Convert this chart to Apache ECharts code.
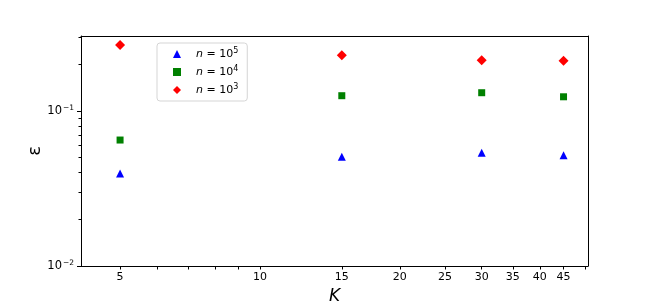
<!DOCTYPE html>
<html><head><meta charset="utf-8">
<script src="https://cdn.jsdelivr.net/npm/echarts@6/dist/echarts.min.js"></script>
<style>html,body{margin:0;padding:0;background:#fff}#c{width:654px;height:305px}</style>
</head><body><div id="c"></div>
<script>
const K = [5, 15, 30, 45];
const eps_n1e5 = [0.0396, 0.0507, 0.0538, 0.0518];
const eps_n1e4 = [0.0650, 0.1256, 0.1313, 0.1236];
const eps_n1e3 = [0.2665, 0.2287, 0.213, 0.211];
const xTickLabels = [5, 10, 15, 20, 25, 30, 35, 40, 45];
const xTicks = [5, 6, 7, 8, 9, 10, 15, 20, 25, 30, 35, 40, 45, 50];
const yMajor = [0.01, 0.1];
const yMinor = [0.02, 0.03, 0.04, 0.05, 0.06, 0.07, 0.08, 0.09, 0.2, 0.3];
const seriesNames = ['5', '4', '3'];
const yName = '\u03b5';

const font = 'DejaVu Sans';
const chart = echarts.init(document.getElementById('c'));
const zip = (a, b) => a.map((v, i) => [v, b[i]]);
const yFmt = v => { const e = Math.round(Math.log10(v)); return '10{s|\u2212' + (-e) + '}'; };

chart.setOption({
  animation: false,
  textStyle: { fontFamily: font },
  grid: { left: 81, right: 66, top: 36, bottom: 39, outerBoundsMode: 'none', containLabel: false },
  graphic: [{
    type: 'text', x: 35, y: 151, rotation: Math.PI / 2,
    style: { text: yName, fontSize: 18, fontFamily: font, fill: '#000', align: 'center', verticalAlign: 'middle' }
  }],
  legend: {
    left: 157, top: 43, orient: 'vertical',
    padding: [4, 9, 4, 16], itemGap: 4,
    itemWidth: 8, itemHeight: 8,
    borderColor: '#d5d5d5', borderWidth: 1, borderRadius: 3,
    data: seriesNames,
    formatter: name => '{i|n} = 10{s|' + name + '}',
    textStyle: {
      fontFamily: font, fontSize: 11, color: '#000', lineHeight: 14, padding: [0, 0, 0, 10],
      rich: {
        i: { fontStyle: 'italic', fontSize: 11, fontFamily: font, color: '#000' },
        s: { fontSize: 8, verticalAlign: 'top', fontFamily: font, color: '#000', padding: [0, 0, 5, 0] }
      }
    }
  },
  xAxis: [{
    type: 'log', logBase: 10, min: 4.12, max: 50.8,
    name: 'K', nameLocation: 'middle', nameGap: 20,
    nameTextStyle: { fontStyle: 'italic', fontSize: 17, color: '#000', fontFamily: font },
    axisLine: { lineStyle: { color: '#000', width: 1 } },
    splitLine: { show: false },
    axisTick: { customValues: xTicks, length: 3.5, inside: false, lineStyle: { color: '#000' } },
    axisLabel: { customValues: xTickLabels, fontSize: 11, color: '#000', margin: 6, fontFamily: font }
  }, {
    type: 'log', logBase: 10, min: 4.12, max: 50.8, position: 'top',
    axisLine: { lineStyle: { color: '#000', width: 1 } },
    axisTick: { show: false }, axisLabel: { show: false }, splitLine: { show: false }
  }],
  yAxis: [{
    type: 'log', logBase: 10, min: 0.01, max: 0.305,
    axisLine: { lineStyle: { color: '#000', width: 1 } },
    splitLine: { show: false },
    axisTick: { customValues: yMajor, length: 4, lineStyle: { color: '#000' } },
    axisLabel: {
      customValues: yMajor, formatter: yFmt, fontSize: 11.5, color: '#000', margin: 7, fontFamily: font,
      rich: { s: { fontSize: 7.5, verticalAlign: 'top', padding: [0, 0, 6, 1], color: '#000', fontFamily: font } }
    }
  }, {
    type: 'log', logBase: 10, min: 0.01, max: 0.305, position: 'left', offset: 0,
    axisLine: { show: false }, splitLine: { show: false },
    axisTick: { customValues: yMinor, length: 2.5, lineStyle: { color: '#000' } },
    axisLabel: { show: false }
  }, {
    type: 'log', logBase: 10, min: 0.01, max: 0.305, position: 'right',
    axisLine: { lineStyle: { color: '#000', width: 1 } },
    axisTick: { show: false }, axisLabel: { show: false }, splitLine: { show: false }
  }],
  series: [
    { name: seriesNames[0], type: 'scatter', symbol: 'triangle', symbolSize: 8, itemStyle: { color: '#0000ff', opacity: 1 }, data: zip(K, eps_n1e5) },
    { name: seriesNames[1], type: 'scatter', symbol: 'rect', symbolSize: 7, itemStyle: { color: '#008000', opacity: 1 }, data: zip(K, eps_n1e4) },
    { name: seriesNames[2], type: 'scatter', symbol: 'diamond', symbolSize: 10, itemStyle: { color: '#ff0000', opacity: 1 }, data: zip(K, eps_n1e3) }
  ]
});
</script></body></html>
